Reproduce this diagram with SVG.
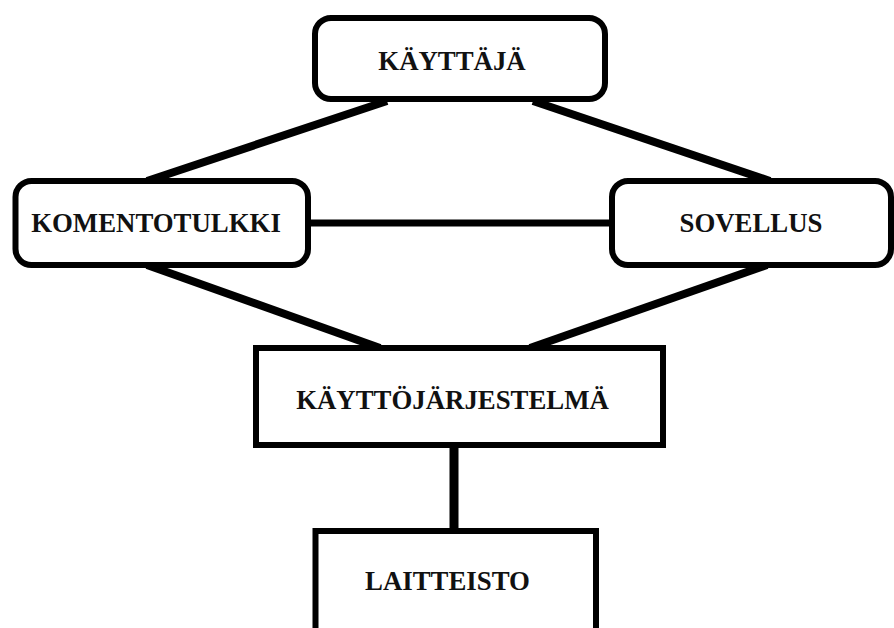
<svg xmlns="http://www.w3.org/2000/svg" width="894" height="628" viewBox="0 0 894 628">
<style>
.box{fill:#fff;stroke:#000;stroke-width:6}
.lbl{font-family:"Liberation Serif","Times New Roman",serif;font-weight:bold;font-size:26.8px;fill:#111;text-anchor:middle}
.con{stroke:#000;stroke-width:8;stroke-linecap:butt;fill:none}
</style>
<rect width="894" height="628" fill="#fff"/>
<g id="connectors">
<line class="con" x1="387" y1="101" x2="147" y2="181"/>
<line class="con" x1="533" y1="101" x2="770" y2="181"/>
<line class="con" x1="147" y1="265" x2="380" y2="348"/>
<line class="con" x1="767" y1="265" x2="530" y2="348"/>
<line class="con" x1="308" y1="223" x2="612" y2="223" style="stroke-width:7"/>
<line class="con" x1="454" y1="445" x2="454" y2="531" style="stroke-width:9"/>
</g>
<g id="kayttaja">
<rect class="box" x="315" y="18" width="290" height="81" rx="16"/>
<text class="lbl" x="452" y="70">KÄYTTÄJÄ</text>
</g>
<g id="komentotulkki">
<rect class="box" x="15.5" y="181" width="292.5" height="84" rx="16"/>
<text class="lbl" x="156" y="232">KOMENTOTULKKI</text>
</g>
<g id="sovellus">
<rect class="box" x="612" y="181" width="279" height="84" rx="16"/>
<text class="lbl" x="751" y="232">SOVELLUS</text>
</g>
<g id="kayttojarjestelma">
<rect class="box" x="256" y="348" width="407" height="97"/>
<text class="lbl" x="452.5" y="409">KÄYTTÖJÄRJESTELMÄ</text>
</g>
<g id="laitteisto">
<rect class="box" x="315.5" y="531" width="280.5" height="110"/>
<text class="lbl" x="447.5" y="590">LAITTEISTO</text>
</g>
</svg>
